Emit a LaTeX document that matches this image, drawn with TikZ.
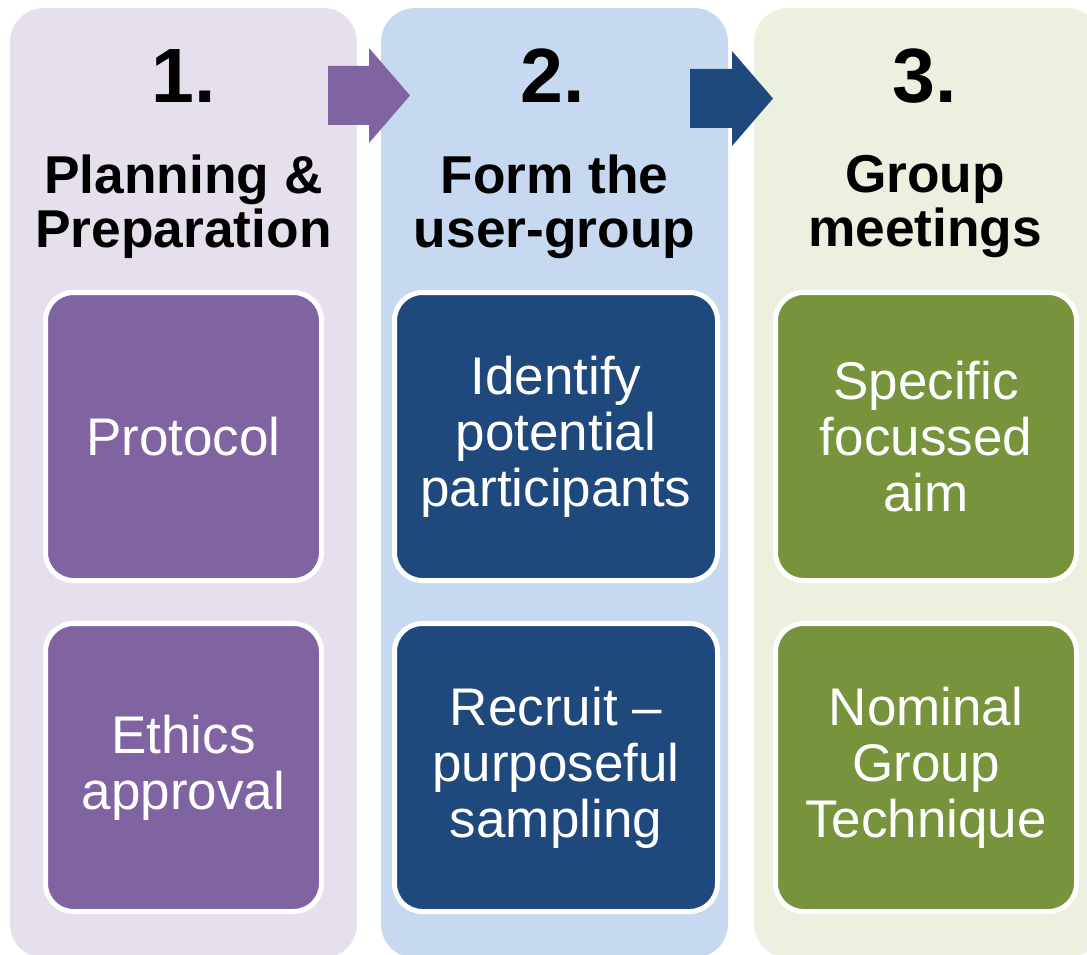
\documentclass[tikz,border=0pt]{standalone}
\usepackage{fontspec}
\setmainfont{Liberation Sans}
\usetikzlibrary{positioning}

\definecolor{lilacbg}{HTML}{E5E0EC}
\definecolor{lilac}{HTML}{8064A2}
\definecolor{bluebg}{HTML}{C6D9F1}
\definecolor{navy}{HTML}{1F497D}
\definecolor{greenbg}{HTML}{EBF1DE}
\definecolor{olive}{HTML}{77933C}

\begin{document}
\begin{tikzpicture}[
    , x = 1pt
    , y = -1pt
    , stage/.style = {
      , rectangle
      , rounded corners = 34pt
      , minimum height = 950pt
      , minimum width = 347pt
      , inner sep = 0pt
    }
    , task/.style = {
      , rectangle
      , draw = white
      , line width = 5pt
      , rounded corners = 28pt
      , minimum height = 288pt
      , text = white
      , align = center
      , font = \fontsize{53}{56}\selectfont
    }
    , num/.style = {
      , anchor = base
      , font = \fontsize{77}{80}\selectfont\bfseries
    }
    , title/.style = {
      , align = center
      , font = \fontsize{53.3}{54}\selectfont\bfseries
    }
  ]
    \useasboundingbox (0,0) rectangle (1087,955);

    % columns
    \node (col1) [stage, fill = lilacbg] at (183.5,483) {};
    \node (col2) [stage, fill = bluebg] at (554.5,483) {};
    \node (col3) [stage, fill = greenbg] at (927.5,483) {};

    % block arrows
    \fill [lilac] (328,66) -- (369,66) -- (369,48) -- (410,95.5)
      -- (369,143) -- (369,125) -- (328,125) -- cycle;
    \fill [navy] (690,69) -- (732,69) -- (732,51) -- (773,98.5)
      -- (732,146) -- (732,128) -- (690,128) -- cycle;

    % headings
    \node (n1) [num] at (183.5,103) {1.};
    \node (n2) [num] at (553,103) {2.};
    \node (n3) [num] at (925,103) {3.};
    \node (t1) [title] at (183.5,206.5) {Planning \&\\Preparation};
    \node (t2) [title] at (554.5,206.5) {Form the\\user-group};
    \node (t3) [title] at (925,206.5) {Group\\meetings};

    % boxes
    \node (protocol) [task, fill = lilac, minimum width = 276pt] at (183.5,436.5) {Protocol};
    \node (ethics) [task, fill = lilac, minimum width = 276pt] at (183.5,767.5) {Ethics\\approval};
    \node (identify) [task, fill = navy, minimum width = 323pt] at (556,436.5) {Identify\\potential\\participants};
    \node (recruit) [task, fill = navy, minimum width = 323pt] at (556,767.5) {Recruit --\\purposeful\\sampling};
    \node (aim) [task, fill = olive, minimum width = 301pt] at (926,436.5) {Specific\\focussed\\aim};
    \node (ngt) [task, fill = olive, minimum width = 301pt] at (926,767.5) {Nominal\\Group\\Technique};
  \end{tikzpicture}
\end{document}
